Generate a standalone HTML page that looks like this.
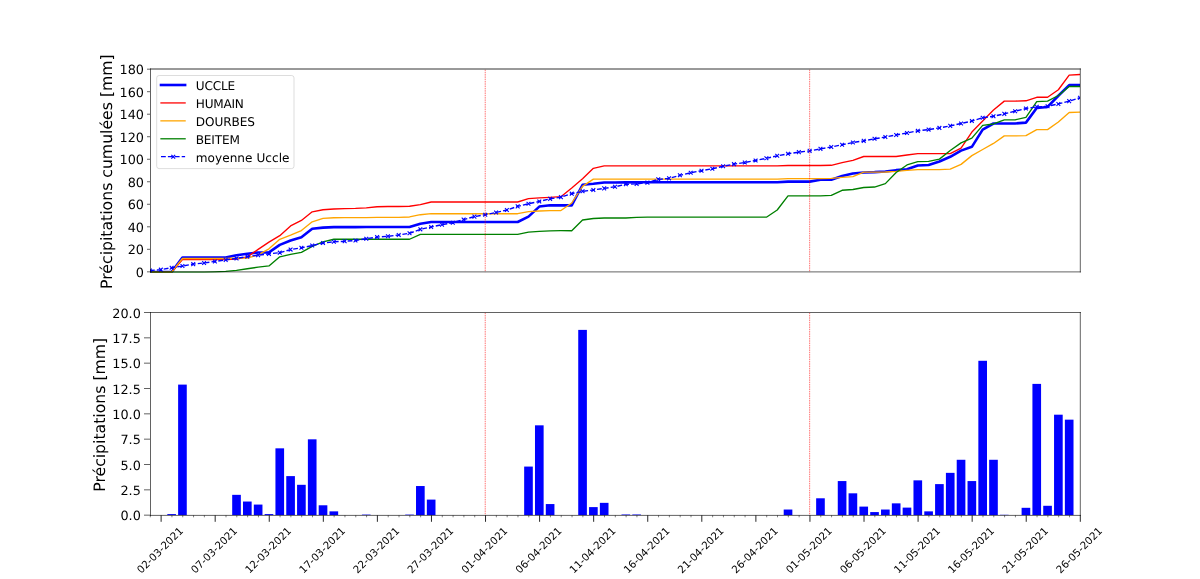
<!DOCTYPE html>
<html lang="fr"><head><meta charset="utf-8"><title>Précipitations</title>
<style>html,body{margin:0;padding:0;background:#fff}svg{display:block}text{font-family:"DejaVu Sans", "Liberation Sans", sans-serif;fill:#000;text-rendering:geometricPrecision}</style></head><body>
<svg width="1200" height="579" viewBox="0 0 1200 579">
<rect width="1200" height="579" fill="#fff"/>
<defs><clipPath id="ct"><rect x="150.00" y="69.48" width="930.00" height="203.20"/></clipPath><clipPath id="cb"><rect x="150.00" y="312.66" width="930.00" height="202.65"/></clipPath></defs>
<g clip-path="url(#ct)">
<polyline points="150.00,272.13 160.81,272.13 171.63,271.99 182.44,257.47 193.26,257.47 204.07,257.47 214.88,257.47 225.70,257.47 236.51,255.20 247.33,253.67 258.14,252.47 268.95,252.34 279.77,244.90 290.58,240.54 301.40,237.15 312.21,228.71 323.02,227.59 333.84,227.15 344.65,227.15 355.47,227.15 366.28,227.07 377.09,227.07 387.91,227.07 398.72,227.07 409.53,227.00 420.35,223.74 431.16,222.00 441.98,222.00 452.79,222.00 463.60,222.00 474.42,222.00 485.23,222.00 496.05,222.00 506.86,222.00 517.67,222.00 528.49,216.58 539.30,206.58 550.12,205.33 560.93,205.33 571.74,205.33 582.56,184.73 593.37,183.82 604.19,182.43 615.00,182.43 625.81,182.34 636.63,182.25 647.44,182.25 658.26,182.25 669.07,182.25 679.88,182.25 690.70,182.25 701.51,182.25 712.33,182.25 723.14,182.25 733.95,182.25 744.77,182.25 755.58,182.25 766.40,182.25 777.21,182.25 788.02,181.61 798.84,181.61 809.65,181.61 820.47,179.72 831.28,179.72 842.09,175.92 852.91,173.47 863.72,172.51 874.53,172.14 885.35,171.50 896.16,170.17 906.98,169.32 917.79,165.43 928.60,165.00 939.42,161.53 950.23,156.81 961.05,150.64 971.86,146.84 982.67,129.67 993.49,123.50 1004.30,123.44 1015.12,123.44 1025.93,122.61 1036.74,108.01 1047.56,106.95 1058.37,95.77 1069.19,85.14 1080.00,85.14" fill="none" stroke="#0000ff" stroke-width="2.60" stroke-linejoin="round" stroke-linecap="square"/>
<polyline points="150.00,272.13 160.81,272.13 171.63,272.13 182.44,259.46 193.26,259.46 204.07,259.46 214.88,259.46 225.70,259.46 236.51,259.07 247.33,256.82 258.14,249.39 268.95,242.18 279.77,235.65 290.58,225.97 301.40,220.45 312.21,211.79 323.02,209.76 333.84,208.97 344.65,208.63 355.47,208.41 366.28,207.84 377.09,206.72 387.91,206.49 398.72,206.49 409.53,206.27 420.35,204.69 431.16,201.99 441.98,201.99 452.79,201.99 463.60,201.99 474.42,201.99 485.23,201.99 496.05,201.99 506.86,201.99 517.67,201.99 528.49,198.61 539.30,197.82 550.12,197.37 560.93,196.70 571.74,188.03 582.56,178.80 593.37,168.33 604.19,165.85 615.00,165.85 625.81,165.85 636.63,165.85 647.44,165.85 658.26,165.85 669.07,165.85 679.88,165.85 690.70,165.85 701.51,165.85 712.33,165.85 723.14,165.85 733.95,165.85 744.77,165.85 755.58,165.85 766.40,165.85 777.21,165.85 788.02,165.51 798.84,165.51 809.65,165.51 820.47,165.51 831.28,165.29 842.09,162.70 852.91,160.33 863.72,156.51 874.53,156.51 885.35,156.51 896.16,156.51 906.98,155.04 917.79,153.69 928.60,153.69 939.42,153.69 950.23,153.69 961.05,148.06 971.86,132.08 982.67,121.04 993.49,110.01 1004.30,101.12 1015.12,101.12 1025.93,100.78 1036.74,97.29 1047.56,97.29 1058.37,89.75 1069.19,75.11 1080.00,74.55" fill="none" stroke="#ff0000" stroke-width="1.35" stroke-linejoin="round" stroke-linecap="square"/>
<polyline points="150.00,272.13 160.81,272.13 171.63,272.13 182.44,258.51 193.26,258.51 204.07,258.51 214.88,258.51 225.70,258.51 236.51,258.17 247.33,258.17 258.14,254.79 268.95,248.83 279.77,239.26 290.58,235.09 301.40,230.59 312.21,221.81 323.02,218.43 333.84,217.75 344.65,217.64 355.47,217.64 366.28,217.64 377.09,217.30 387.91,217.30 398.72,217.30 409.53,216.96 420.35,214.71 431.16,213.70 441.98,213.70 452.79,213.70 463.60,213.70 474.42,213.70 485.23,213.70 496.05,213.70 506.86,213.70 517.67,213.70 528.49,211.67 539.30,211.00 550.12,210.66 560.93,210.55 571.74,203.00 582.56,186.34 593.37,179.14 604.19,179.14 615.00,179.14 625.81,179.14 636.63,179.14 647.44,179.14 658.26,179.14 669.07,179.14 679.88,179.14 690.70,179.14 701.51,179.14 712.33,179.14 723.14,179.14 733.95,179.14 744.77,179.14 755.58,179.14 766.40,179.14 777.21,179.14 788.02,178.69 798.84,178.69 809.65,178.69 820.47,178.69 831.28,178.35 842.09,177.45 852.91,176.66 863.72,172.16 874.53,172.16 885.35,172.04 896.16,171.37 906.98,170.35 917.79,169.68 928.60,169.68 939.42,169.57 950.23,169.12 961.05,164.39 971.86,155.61 982.67,149.53 993.49,143.45 1004.30,135.90 1015.12,135.90 1025.93,135.68 1036.74,129.60 1047.56,129.60 1058.37,122.06 1069.19,112.49 1080.00,112.15" fill="none" stroke="#ffa500" stroke-width="1.35" stroke-linejoin="round" stroke-linecap="square"/>
<polyline points="150.00,272.13 160.81,272.13 171.63,272.13 182.44,272.13 193.26,272.13 204.07,272.13 214.88,271.90 225.70,271.45 236.51,270.44 247.33,268.75 258.14,267.18 268.95,265.94 279.77,256.82 290.58,254.45 301.40,252.32 312.21,246.46 323.02,241.85 333.84,239.26 344.65,239.26 355.47,239.26 366.28,239.26 377.09,239.26 387.91,239.26 398.72,239.26 409.53,239.26 420.35,234.30 431.16,234.30 441.98,234.30 452.79,234.30 463.60,234.30 474.42,234.30 485.23,234.30 496.05,234.30 506.86,234.30 517.67,234.30 528.49,232.16 539.30,231.37 550.12,230.81 560.93,230.70 571.74,230.70 582.56,220.00 593.37,218.54 604.19,217.98 615.00,217.98 625.81,217.98 636.63,217.30 647.44,217.19 658.26,217.19 669.07,217.19 679.88,217.19 690.70,217.19 701.51,217.19 712.33,217.19 723.14,217.19 733.95,217.19 744.77,217.19 755.58,217.19 766.40,217.19 777.21,209.98 788.02,195.80 798.84,195.80 809.65,195.80 820.47,195.80 831.28,195.35 842.09,190.28 852.91,189.49 863.72,187.47 874.53,187.02 885.35,183.64 896.16,172.49 906.98,164.95 917.79,161.69 928.60,161.35 939.42,159.10 950.23,150.54 961.05,142.88 971.86,138.16 982.67,125.43 993.49,123.97 1004.30,119.80 1015.12,119.80 1025.93,117.33 1036.74,101.68 1047.56,101.12 1058.37,95.49 1069.19,86.48 1080.00,86.48" fill="none" stroke="#008000" stroke-width="1.35" stroke-linejoin="round" stroke-linecap="square"/>
<polyline points="150.00,270.44 160.81,269.65 171.63,267.74 182.44,266.05 193.26,264.14 204.07,263.01 214.88,261.43 225.70,259.86 236.51,258.39 247.33,256.59 258.14,255.13 268.95,253.89 279.77,252.65 290.58,249.61 301.40,247.81 312.21,245.56 323.02,243.08 333.84,241.73 344.65,241.28 355.47,240.49 366.28,238.69 377.09,237.12 387.91,236.33 398.72,234.98 409.53,233.29 420.35,229.35 431.16,226.98 441.98,224.62 452.79,222.71 463.60,219.55 474.42,216.63 485.23,214.71 496.05,212.46 506.86,209.98 517.67,206.38 528.49,203.79 539.30,201.43 550.12,198.84 560.93,197.15 571.74,193.66 582.56,191.30 593.37,189.94 604.19,188.37 615.00,186.79 625.81,184.31 636.63,183.86 647.44,182.63 658.26,179.36 669.07,178.35 679.88,175.31 690.70,172.72 701.51,170.69 712.33,168.78 723.14,166.30 733.95,164.16 744.77,162.47 755.58,160.45 766.40,158.31 777.21,155.83 788.02,153.80 798.84,152.12 809.65,150.88 820.47,148.85 831.28,147.05 842.09,144.69 852.91,142.55 863.72,140.86 874.53,138.83 885.35,137.03 896.16,135.00 906.98,132.98 917.79,130.84 928.60,129.60 939.42,127.91 950.23,125.88 961.05,123.52 971.86,121.04 982.67,117.67 993.49,116.31 1004.30,113.84 1015.12,111.25 1025.93,108.55 1036.74,106.86 1047.56,106.29 1058.37,103.93 1069.19,101.12 1080.00,97.74" fill="none" stroke="#0000ff" stroke-width="1.40" stroke-linejoin="round" stroke-dasharray="4.8 2.1"/>
<path d="M148.10 268.54L151.90 272.34M148.10 272.34L151.90 268.54M158.91 267.75L162.71 271.55M158.91 271.55L162.71 267.75M169.73 265.84L173.53 269.64M169.73 269.64L173.53 265.84M180.54 264.15L184.34 267.95M180.54 267.95L184.34 264.15M191.36 262.24L195.16 266.04M191.36 266.04L195.16 262.24M202.17 261.11L205.97 264.91M202.17 264.91L205.97 261.11M212.98 259.53L216.78 263.33M212.98 263.33L216.78 259.53M223.80 257.96L227.60 261.76M223.80 261.76L227.60 257.96M234.61 256.49L238.41 260.29M234.61 260.29L238.41 256.49M245.43 254.69L249.23 258.49M245.43 258.49L249.23 254.69M256.24 253.23L260.04 257.03M256.24 257.03L260.04 253.23M267.05 251.99L270.85 255.79M267.05 255.79L270.85 251.99M277.87 250.75L281.67 254.55M277.87 254.55L281.67 250.75M288.68 247.71L292.48 251.51M288.68 251.51L292.48 247.71M299.50 245.91L303.30 249.71M299.50 249.71L303.30 245.91M310.31 243.66L314.11 247.46M310.31 247.46L314.11 243.66M321.12 241.18L324.92 244.98M321.12 244.98L324.92 241.18M331.94 239.83L335.74 243.63M331.94 243.63L335.74 239.83M342.75 239.38L346.55 243.18M342.75 243.18L346.55 239.38M353.57 238.59L357.37 242.39M353.57 242.39L357.37 238.59M364.38 236.79L368.18 240.59M364.38 240.59L368.18 236.79M375.19 235.22L378.99 239.02M375.19 239.02L378.99 235.22M386.01 234.43L389.81 238.23M386.01 238.23L389.81 234.43M396.82 233.08L400.62 236.88M396.82 236.88L400.62 233.08M407.63 231.39L411.43 235.19M407.63 235.19L411.43 231.39M418.45 227.45L422.25 231.25M418.45 231.25L422.25 227.45M429.26 225.08L433.06 228.88M429.26 228.88L433.06 225.08M440.08 222.72L443.88 226.52M440.08 226.52L443.88 222.72M450.89 220.81L454.69 224.61M450.89 224.61L454.69 220.81M461.70 217.65L465.50 221.45M461.70 221.45L465.50 217.65M472.52 214.73L476.32 218.53M472.52 218.53L476.32 214.73M483.33 212.81L487.13 216.61M483.33 216.61L487.13 212.81M494.15 210.56L497.95 214.36M494.15 214.36L497.95 210.56M504.96 208.08L508.76 211.88M504.96 211.88L508.76 208.08M515.77 204.48L519.57 208.28M515.77 208.28L519.57 204.48M526.59 201.89L530.39 205.69M526.59 205.69L530.39 201.89M537.40 199.53L541.20 203.33M537.40 203.33L541.20 199.53M548.22 196.94L552.02 200.74M548.22 200.74L552.02 196.94M559.03 195.25L562.83 199.05M559.03 199.05L562.83 195.25M569.84 191.76L573.64 195.56M569.84 195.56L573.64 191.76M580.66 189.40L584.46 193.20M580.66 193.20L584.46 189.40M591.47 188.04L595.27 191.84M591.47 191.84L595.27 188.04M602.29 186.47L606.09 190.27M602.29 190.27L606.09 186.47M613.10 184.89L616.90 188.69M613.10 188.69L616.90 184.89M623.91 182.41L627.71 186.22M623.91 186.22L627.71 182.41M634.73 181.96L638.53 185.76M634.73 185.76L638.53 181.96M645.54 180.73L649.34 184.53M645.54 184.53L649.34 180.73M656.36 177.46L660.16 181.26M656.36 181.26L660.16 177.46M667.17 176.45L670.97 180.25M667.17 180.25L670.97 176.45M677.98 173.41L681.78 177.21M677.98 177.21L681.78 173.41M688.80 170.82L692.60 174.62M688.80 174.62L692.60 170.82M699.61 168.79L703.41 172.59M699.61 172.59L703.41 168.79M710.43 166.88L714.23 170.68M710.43 170.68L714.23 166.88M721.24 164.40L725.04 168.20M721.24 168.20L725.04 164.40M732.05 162.26L735.85 166.06M732.05 166.06L735.85 162.26M742.87 160.57L746.67 164.37M742.87 164.37L746.67 160.57M753.68 158.55L757.48 162.35M753.68 162.35L757.48 158.55M764.50 156.41L768.30 160.21M764.50 160.21L768.30 156.41M775.31 153.93L779.11 157.73M775.31 157.73L779.11 153.93M786.12 151.90L789.92 155.70M786.12 155.70L789.92 151.90M796.94 150.22L800.74 154.02M796.94 154.02L800.74 150.22M807.75 148.98L811.55 152.78M807.75 152.78L811.55 148.98M818.57 146.95L822.37 150.75M818.57 150.75L822.37 146.95M829.38 145.15L833.18 148.95M829.38 148.95L833.18 145.15M840.19 142.79L843.99 146.59M840.19 146.59L843.99 142.79M851.01 140.65L854.81 144.45M851.01 144.45L854.81 140.65M861.82 138.96L865.62 142.76M861.82 142.76L865.62 138.96M872.63 136.93L876.43 140.73M872.63 140.73L876.43 136.93M883.45 135.13L887.25 138.93M883.45 138.93L887.25 135.13M894.26 133.10L898.06 136.90M894.26 136.90L898.06 133.10M905.08 131.08L908.88 134.88M905.08 134.88L908.88 131.08M915.89 128.94L919.69 132.74M915.89 132.74L919.69 128.94M926.70 127.70L930.50 131.50M926.70 131.50L930.50 127.70M937.52 126.01L941.32 129.81M937.52 129.81L941.32 126.01M948.33 123.98L952.13 127.78M948.33 127.78L952.13 123.98M959.15 121.62L962.95 125.42M959.15 125.42L962.95 121.62M969.96 119.14L973.76 122.94M969.96 122.94L973.76 119.14M980.77 115.77L984.57 119.57M980.77 119.57L984.57 115.77M991.59 114.41L995.39 118.21M991.59 118.21L995.39 114.41M1002.40 111.94L1006.20 115.74M1002.40 115.74L1006.20 111.94M1013.22 109.35L1017.02 113.15M1013.22 113.15L1017.02 109.35M1024.03 106.65L1027.83 110.45M1024.03 110.45L1027.83 106.65M1034.84 104.96L1038.64 108.76M1034.84 108.76L1038.64 104.96M1045.66 104.39L1049.46 108.19M1045.66 108.19L1049.46 104.39M1056.47 102.03L1060.27 105.83M1056.47 105.83L1060.27 102.03M1067.29 99.22L1071.09 103.02M1067.29 103.02L1071.09 99.22M1078.10 95.84L1081.90 99.64M1078.10 99.64L1081.90 95.84" stroke="#0000ff" stroke-width="1.1" fill="none"/>
<line x1="485.23" y1="69.48" x2="485.23" y2="272.13" stroke="#ff0000" stroke-width="0.55" stroke-dasharray="1.5 0.8"/>
<line x1="809.65" y1="69.48" x2="809.65" y2="272.13" stroke="#ff0000" stroke-width="0.55" stroke-dasharray="1.5 0.8"/>
</g>
<path d="M150.50 69.00H1080.30" fill="none" stroke="#000" stroke-width="0.80" stroke-linecap="square"/>
<path d="M150.50 271.90H1080.30M150.50 69.00V271.90M1080.30 69.00V271.90" fill="none" stroke="#000" stroke-width="0.62" stroke-linecap="square"/>
<line x1="147.00" y1="271.83" x2="150.00" y2="271.83" stroke="#000" stroke-width="0.62"/>
<text x="144.00" y="277.00" font-size="12.80" text-anchor="end">0</text>
<line x1="147.00" y1="249.31" x2="150.00" y2="249.31" stroke="#000" stroke-width="0.62"/>
<text x="144.00" y="254.00" font-size="12.80" text-anchor="end">20</text>
<line x1="147.00" y1="226.80" x2="150.00" y2="226.80" stroke="#000" stroke-width="0.62"/>
<text x="144.00" y="232.00" font-size="12.80" text-anchor="end">40</text>
<line x1="147.00" y1="204.28" x2="150.00" y2="204.28" stroke="#000" stroke-width="0.62"/>
<text x="144.00" y="209.00" font-size="12.80" text-anchor="end">60</text>
<line x1="147.00" y1="181.76" x2="150.00" y2="181.76" stroke="#000" stroke-width="0.62"/>
<text x="144.00" y="187.00" font-size="12.80" text-anchor="end">80</text>
<line x1="147.00" y1="159.25" x2="150.00" y2="159.25" stroke="#000" stroke-width="0.62"/>
<text x="144.00" y="164.00" font-size="12.80" text-anchor="end">100</text>
<line x1="147.00" y1="136.73" x2="150.00" y2="136.73" stroke="#000" stroke-width="0.62"/>
<text x="144.00" y="142.00" font-size="12.80" text-anchor="end">120</text>
<line x1="147.00" y1="114.21" x2="150.00" y2="114.21" stroke="#000" stroke-width="0.62"/>
<text x="144.00" y="119.00" font-size="12.80" text-anchor="end">140</text>
<line x1="147.00" y1="91.70" x2="150.00" y2="91.70" stroke="#000" stroke-width="0.62"/>
<text x="144.00" y="97.00" font-size="12.80" text-anchor="end">160</text>
<line x1="147.00" y1="69.18" x2="150.00" y2="69.18" stroke="#000" stroke-width="0.62"/>
<text x="144.00" y="74.00" font-size="12.80" text-anchor="end">180</text>
<text transform="translate(112.00 171.61) rotate(-90)" font-size="15.70" text-anchor="middle">Précipitations cumulées [mm]</text>
<rect x="156.70" y="75.50" width="137.30" height="93.10" rx="2.4" ry="2.4" fill="#fff" fill-opacity="0.8" stroke="#ccc" stroke-opacity="0.8" stroke-width="0.85"/>
<line x1="161.0" y1="85.00" x2="185.1" y2="85.00" stroke="#0000ff" stroke-width="2.60" stroke-linecap="square" />
<text x="195.75" y="90.00" font-size="12.10" textLength="39.40">UCCLE</text>
<line x1="161.0" y1="102.93" x2="185.1" y2="102.93" stroke="#ff0000" stroke-width="1.29" stroke-linecap="square" />
<text x="195.75" y="108.00" font-size="12.10" textLength="48.15">HUMAIN</text>
<line x1="161.0" y1="120.86" x2="185.1" y2="120.86" stroke="#ffa500" stroke-width="1.29" stroke-linecap="square" />
<text x="195.75" y="126.00" font-size="12.10" textLength="59.20">DOURBES</text>
<line x1="161.0" y1="138.79" x2="185.1" y2="138.79" stroke="#008000" stroke-width="1.29" stroke-linecap="square" />
<text x="195.75" y="144.00" font-size="12.10" textLength="44.10">BEITEM</text>
<line x1="161.0" y1="156.72" x2="185.1" y2="156.72" stroke="#0000ff" stroke-width="1.30" stroke-linecap="butt" stroke-dasharray="4.8 2.1"/>
<path d="M171.35 154.82L175.15 158.62M171.35 158.62L175.15 154.82" stroke="#0000ff" stroke-width="1.15"/>
<text x="195.75" y="162.00" font-size="12.10" textLength="93.80">moyenne Uccle</text>
<g clip-path="url(#cb)">
<rect x="167.30" y="514.09" width="8.65" height="1.22" fill="#0000ff"/>
<rect x="178.12" y="384.60" width="8.65" height="130.71" fill="#0000ff"/>
<rect x="232.19" y="494.84" width="8.65" height="20.47" fill="#0000ff"/>
<rect x="243.00" y="501.53" width="8.65" height="13.78" fill="#0000ff"/>
<rect x="253.81" y="504.57" width="8.65" height="10.74" fill="#0000ff"/>
<rect x="264.63" y="514.09" width="8.65" height="1.22" fill="#0000ff"/>
<rect x="275.44" y="448.33" width="8.65" height="66.98" fill="#0000ff"/>
<rect x="286.26" y="476.10" width="8.65" height="39.21" fill="#0000ff"/>
<rect x="297.07" y="484.81" width="8.65" height="30.50" fill="#0000ff"/>
<rect x="307.88" y="439.32" width="8.65" height="75.99" fill="#0000ff"/>
<rect x="318.70" y="505.28" width="8.65" height="10.03" fill="#0000ff"/>
<rect x="329.51" y="511.36" width="8.65" height="3.95" fill="#0000ff"/>
<rect x="361.95" y="514.60" width="8.65" height="0.71" fill="#0000ff"/>
<rect x="405.21" y="514.60" width="8.65" height="0.71" fill="#0000ff"/>
<rect x="416.02" y="486.03" width="8.65" height="29.28" fill="#0000ff"/>
<rect x="426.84" y="499.60" width="8.65" height="15.71" fill="#0000ff"/>
<rect x="524.16" y="466.57" width="8.65" height="48.74" fill="#0000ff"/>
<rect x="534.98" y="425.33" width="8.65" height="89.98" fill="#0000ff"/>
<rect x="545.79" y="504.06" width="8.65" height="11.25" fill="#0000ff"/>
<rect x="578.23" y="329.89" width="8.65" height="185.42" fill="#0000ff"/>
<rect x="589.05" y="507.10" width="8.65" height="8.21" fill="#0000ff"/>
<rect x="599.86" y="502.85" width="8.65" height="12.46" fill="#0000ff"/>
<rect x="621.49" y="514.50" width="8.65" height="0.81" fill="#0000ff"/>
<rect x="632.30" y="514.50" width="8.65" height="0.81" fill="#0000ff"/>
<rect x="783.70" y="509.53" width="8.65" height="5.78" fill="#0000ff"/>
<rect x="816.14" y="498.29" width="8.65" height="17.02" fill="#0000ff"/>
<rect x="837.77" y="481.06" width="8.65" height="34.25" fill="#0000ff"/>
<rect x="848.58" y="493.32" width="8.65" height="21.99" fill="#0000ff"/>
<rect x="859.40" y="506.60" width="8.65" height="8.71" fill="#0000ff"/>
<rect x="870.21" y="512.07" width="8.65" height="3.24" fill="#0000ff"/>
<rect x="881.02" y="509.53" width="8.65" height="5.78" fill="#0000ff"/>
<rect x="891.84" y="503.35" width="8.65" height="11.96" fill="#0000ff"/>
<rect x="902.65" y="507.61" width="8.65" height="7.70" fill="#0000ff"/>
<rect x="913.47" y="480.35" width="8.65" height="34.96" fill="#0000ff"/>
<rect x="924.28" y="511.36" width="8.65" height="3.95" fill="#0000ff"/>
<rect x="935.09" y="484.10" width="8.65" height="31.21" fill="#0000ff"/>
<rect x="945.91" y="472.85" width="8.65" height="42.46" fill="#0000ff"/>
<rect x="956.72" y="459.78" width="8.65" height="55.53" fill="#0000ff"/>
<rect x="967.53" y="481.06" width="8.65" height="34.25" fill="#0000ff"/>
<rect x="978.35" y="360.79" width="8.65" height="154.52" fill="#0000ff"/>
<rect x="989.16" y="459.78" width="8.65" height="55.53" fill="#0000ff"/>
<rect x="999.98" y="514.80" width="8.65" height="0.51" fill="#0000ff"/>
<rect x="1021.60" y="507.81" width="8.65" height="7.50" fill="#0000ff"/>
<rect x="1032.42" y="383.89" width="8.65" height="131.42" fill="#0000ff"/>
<rect x="1043.23" y="505.79" width="8.65" height="9.52" fill="#0000ff"/>
<rect x="1054.05" y="414.69" width="8.65" height="100.62" fill="#0000ff"/>
<rect x="1064.86" y="419.66" width="8.65" height="95.65" fill="#0000ff"/>
<line x1="485.23" y1="312.66" x2="485.23" y2="515.31" stroke="#ff0000" stroke-width="0.55" stroke-dasharray="1.5 0.8"/>
<line x1="809.65" y1="312.66" x2="809.65" y2="515.31" stroke="#ff0000" stroke-width="0.55" stroke-dasharray="1.5 0.8"/>
</g>
<path d="M150.50 312.50H1080.30" fill="none" stroke="#000" stroke-width="0.62" stroke-linecap="square"/>
<path d="M150.50 515.40H1080.30M150.50 312.50V515.40M1080.30 312.50V515.40" fill="none" stroke="#000" stroke-width="0.62" stroke-linecap="square"/>
<line x1="144.00" y1="515.16" x2="150.00" y2="515.16" stroke="#000" stroke-width="0.62"/>
<text x="140.80" y="520.00" font-size="12.80" text-anchor="end">0.0</text>
<line x1="144.00" y1="489.83" x2="150.00" y2="489.83" stroke="#000" stroke-width="0.62"/>
<text x="140.80" y="495.00" font-size="12.80" text-anchor="end">2.5</text>
<line x1="144.00" y1="464.50" x2="150.00" y2="464.50" stroke="#000" stroke-width="0.62"/>
<text x="140.80" y="470.00" font-size="12.80" text-anchor="end">5.0</text>
<line x1="144.00" y1="439.17" x2="150.00" y2="439.17" stroke="#000" stroke-width="0.62"/>
<text x="140.80" y="444.00" font-size="12.80" text-anchor="end">7.5</text>
<line x1="144.00" y1="413.84" x2="150.00" y2="413.84" stroke="#000" stroke-width="0.62"/>
<text x="140.80" y="419.00" font-size="12.80" text-anchor="end">10.0</text>
<line x1="144.00" y1="388.50" x2="150.00" y2="388.50" stroke="#000" stroke-width="0.62"/>
<text x="140.80" y="394.00" font-size="12.80" text-anchor="end">12.5</text>
<line x1="144.00" y1="363.17" x2="150.00" y2="363.17" stroke="#000" stroke-width="0.62"/>
<text x="140.80" y="368.00" font-size="12.80" text-anchor="end">15.0</text>
<line x1="144.00" y1="337.84" x2="150.00" y2="337.84" stroke="#000" stroke-width="0.62"/>
<text x="140.80" y="343.00" font-size="12.80" text-anchor="end">17.5</text>
<line x1="144.00" y1="312.51" x2="150.00" y2="312.51" stroke="#000" stroke-width="0.62"/>
<text x="140.80" y="318.00" font-size="12.80" text-anchor="end">20.0</text>
<text transform="translate(104.70 414.79) rotate(-90)" font-size="15.70" text-anchor="middle">Précipitations [mm]</text>
<line x1="150.30" y1="515.31" x2="150.30" y2="517.31" stroke="#000" stroke-width="0.50"/>
<line x1="161.11" y1="515.31" x2="161.11" y2="521.81" stroke="#000" stroke-width="0.85"/>
<text transform="translate(159.91 550.10) rotate(-45)" font-size="10.35" text-anchor="middle" dy="0.36em">02-03-2021</text>
<line x1="171.93" y1="515.31" x2="171.93" y2="517.31" stroke="#000" stroke-width="0.50"/>
<line x1="182.74" y1="515.31" x2="182.74" y2="517.31" stroke="#000" stroke-width="0.50"/>
<line x1="193.56" y1="515.31" x2="193.56" y2="517.31" stroke="#000" stroke-width="0.50"/>
<line x1="204.37" y1="515.31" x2="204.37" y2="517.31" stroke="#000" stroke-width="0.50"/>
<line x1="215.18" y1="515.31" x2="215.18" y2="521.81" stroke="#000" stroke-width="0.85"/>
<text transform="translate(213.98 550.10) rotate(-45)" font-size="10.35" text-anchor="middle" dy="0.36em">07-03-2021</text>
<line x1="226.00" y1="515.31" x2="226.00" y2="517.31" stroke="#000" stroke-width="0.50"/>
<line x1="236.81" y1="515.31" x2="236.81" y2="517.31" stroke="#000" stroke-width="0.50"/>
<line x1="247.63" y1="515.31" x2="247.63" y2="517.31" stroke="#000" stroke-width="0.50"/>
<line x1="258.44" y1="515.31" x2="258.44" y2="517.31" stroke="#000" stroke-width="0.50"/>
<line x1="269.25" y1="515.31" x2="269.25" y2="521.81" stroke="#000" stroke-width="0.85"/>
<text transform="translate(268.05 550.10) rotate(-45)" font-size="10.35" text-anchor="middle" dy="0.36em">12-03-2021</text>
<line x1="280.07" y1="515.31" x2="280.07" y2="517.31" stroke="#000" stroke-width="0.50"/>
<line x1="290.88" y1="515.31" x2="290.88" y2="517.31" stroke="#000" stroke-width="0.50"/>
<line x1="301.70" y1="515.31" x2="301.70" y2="517.31" stroke="#000" stroke-width="0.50"/>
<line x1="312.51" y1="515.31" x2="312.51" y2="517.31" stroke="#000" stroke-width="0.50"/>
<line x1="323.32" y1="515.31" x2="323.32" y2="521.81" stroke="#000" stroke-width="0.85"/>
<text transform="translate(322.12 550.10) rotate(-45)" font-size="10.35" text-anchor="middle" dy="0.36em">17-03-2021</text>
<line x1="334.14" y1="515.31" x2="334.14" y2="517.31" stroke="#000" stroke-width="0.50"/>
<line x1="344.95" y1="515.31" x2="344.95" y2="517.31" stroke="#000" stroke-width="0.50"/>
<line x1="355.77" y1="515.31" x2="355.77" y2="517.31" stroke="#000" stroke-width="0.50"/>
<line x1="366.58" y1="515.31" x2="366.58" y2="517.31" stroke="#000" stroke-width="0.50"/>
<line x1="377.39" y1="515.31" x2="377.39" y2="521.81" stroke="#000" stroke-width="0.85"/>
<text transform="translate(376.19 550.10) rotate(-45)" font-size="10.35" text-anchor="middle" dy="0.36em">22-03-2021</text>
<line x1="388.21" y1="515.31" x2="388.21" y2="517.31" stroke="#000" stroke-width="0.50"/>
<line x1="399.02" y1="515.31" x2="399.02" y2="517.31" stroke="#000" stroke-width="0.50"/>
<line x1="409.83" y1="515.31" x2="409.83" y2="517.31" stroke="#000" stroke-width="0.50"/>
<line x1="420.65" y1="515.31" x2="420.65" y2="517.31" stroke="#000" stroke-width="0.50"/>
<line x1="431.46" y1="515.31" x2="431.46" y2="521.81" stroke="#000" stroke-width="0.85"/>
<text transform="translate(430.26 550.10) rotate(-45)" font-size="10.35" text-anchor="middle" dy="0.36em">27-03-2021</text>
<line x1="442.28" y1="515.31" x2="442.28" y2="517.31" stroke="#000" stroke-width="0.50"/>
<line x1="453.09" y1="515.31" x2="453.09" y2="517.31" stroke="#000" stroke-width="0.50"/>
<line x1="463.90" y1="515.31" x2="463.90" y2="517.31" stroke="#000" stroke-width="0.50"/>
<line x1="474.72" y1="515.31" x2="474.72" y2="517.31" stroke="#000" stroke-width="0.50"/>
<line x1="485.53" y1="515.31" x2="485.53" y2="521.81" stroke="#000" stroke-width="0.85"/>
<text transform="translate(484.33 550.10) rotate(-45)" font-size="10.35" text-anchor="middle" dy="0.36em">01-04-2021</text>
<line x1="496.35" y1="515.31" x2="496.35" y2="517.31" stroke="#000" stroke-width="0.50"/>
<line x1="507.16" y1="515.31" x2="507.16" y2="517.31" stroke="#000" stroke-width="0.50"/>
<line x1="517.97" y1="515.31" x2="517.97" y2="517.31" stroke="#000" stroke-width="0.50"/>
<line x1="528.79" y1="515.31" x2="528.79" y2="517.31" stroke="#000" stroke-width="0.50"/>
<line x1="539.60" y1="515.31" x2="539.60" y2="521.81" stroke="#000" stroke-width="0.85"/>
<text transform="translate(538.40 550.10) rotate(-45)" font-size="10.35" text-anchor="middle" dy="0.36em">06-04-2021</text>
<line x1="550.42" y1="515.31" x2="550.42" y2="517.31" stroke="#000" stroke-width="0.50"/>
<line x1="561.23" y1="515.31" x2="561.23" y2="517.31" stroke="#000" stroke-width="0.50"/>
<line x1="572.04" y1="515.31" x2="572.04" y2="517.31" stroke="#000" stroke-width="0.50"/>
<line x1="582.86" y1="515.31" x2="582.86" y2="517.31" stroke="#000" stroke-width="0.50"/>
<line x1="593.67" y1="515.31" x2="593.67" y2="521.81" stroke="#000" stroke-width="0.85"/>
<text transform="translate(592.47 550.10) rotate(-45)" font-size="10.35" text-anchor="middle" dy="0.36em">11-04-2021</text>
<line x1="604.49" y1="515.31" x2="604.49" y2="517.31" stroke="#000" stroke-width="0.50"/>
<line x1="615.30" y1="515.31" x2="615.30" y2="517.31" stroke="#000" stroke-width="0.50"/>
<line x1="626.11" y1="515.31" x2="626.11" y2="517.31" stroke="#000" stroke-width="0.50"/>
<line x1="636.93" y1="515.31" x2="636.93" y2="517.31" stroke="#000" stroke-width="0.50"/>
<line x1="647.74" y1="515.31" x2="647.74" y2="521.81" stroke="#000" stroke-width="0.85"/>
<text transform="translate(646.54 550.10) rotate(-45)" font-size="10.35" text-anchor="middle" dy="0.36em">16-04-2021</text>
<line x1="658.56" y1="515.31" x2="658.56" y2="517.31" stroke="#000" stroke-width="0.50"/>
<line x1="669.37" y1="515.31" x2="669.37" y2="517.31" stroke="#000" stroke-width="0.50"/>
<line x1="680.18" y1="515.31" x2="680.18" y2="517.31" stroke="#000" stroke-width="0.50"/>
<line x1="691.00" y1="515.31" x2="691.00" y2="517.31" stroke="#000" stroke-width="0.50"/>
<line x1="701.81" y1="515.31" x2="701.81" y2="521.81" stroke="#000" stroke-width="0.85"/>
<text transform="translate(700.61 550.10) rotate(-45)" font-size="10.35" text-anchor="middle" dy="0.36em">21-04-2021</text>
<line x1="712.63" y1="515.31" x2="712.63" y2="517.31" stroke="#000" stroke-width="0.50"/>
<line x1="723.44" y1="515.31" x2="723.44" y2="517.31" stroke="#000" stroke-width="0.50"/>
<line x1="734.25" y1="515.31" x2="734.25" y2="517.31" stroke="#000" stroke-width="0.50"/>
<line x1="745.07" y1="515.31" x2="745.07" y2="517.31" stroke="#000" stroke-width="0.50"/>
<line x1="755.88" y1="515.31" x2="755.88" y2="521.81" stroke="#000" stroke-width="0.85"/>
<text transform="translate(754.68 550.10) rotate(-45)" font-size="10.35" text-anchor="middle" dy="0.36em">26-04-2021</text>
<line x1="766.70" y1="515.31" x2="766.70" y2="517.31" stroke="#000" stroke-width="0.50"/>
<line x1="777.51" y1="515.31" x2="777.51" y2="517.31" stroke="#000" stroke-width="0.50"/>
<line x1="788.32" y1="515.31" x2="788.32" y2="517.31" stroke="#000" stroke-width="0.50"/>
<line x1="799.14" y1="515.31" x2="799.14" y2="517.31" stroke="#000" stroke-width="0.50"/>
<line x1="809.95" y1="515.31" x2="809.95" y2="521.81" stroke="#000" stroke-width="0.85"/>
<text transform="translate(808.75 550.10) rotate(-45)" font-size="10.35" text-anchor="middle" dy="0.36em">01-05-2021</text>
<line x1="820.77" y1="515.31" x2="820.77" y2="517.31" stroke="#000" stroke-width="0.50"/>
<line x1="831.58" y1="515.31" x2="831.58" y2="517.31" stroke="#000" stroke-width="0.50"/>
<line x1="842.39" y1="515.31" x2="842.39" y2="517.31" stroke="#000" stroke-width="0.50"/>
<line x1="853.21" y1="515.31" x2="853.21" y2="517.31" stroke="#000" stroke-width="0.50"/>
<line x1="864.02" y1="515.31" x2="864.02" y2="521.81" stroke="#000" stroke-width="0.85"/>
<text transform="translate(862.82 550.10) rotate(-45)" font-size="10.35" text-anchor="middle" dy="0.36em">06-05-2021</text>
<line x1="874.83" y1="515.31" x2="874.83" y2="517.31" stroke="#000" stroke-width="0.50"/>
<line x1="885.65" y1="515.31" x2="885.65" y2="517.31" stroke="#000" stroke-width="0.50"/>
<line x1="896.46" y1="515.31" x2="896.46" y2="517.31" stroke="#000" stroke-width="0.50"/>
<line x1="907.28" y1="515.31" x2="907.28" y2="517.31" stroke="#000" stroke-width="0.50"/>
<line x1="918.09" y1="515.31" x2="918.09" y2="521.81" stroke="#000" stroke-width="0.85"/>
<text transform="translate(916.89 550.10) rotate(-45)" font-size="10.35" text-anchor="middle" dy="0.36em">11-05-2021</text>
<line x1="928.90" y1="515.31" x2="928.90" y2="517.31" stroke="#000" stroke-width="0.50"/>
<line x1="939.72" y1="515.31" x2="939.72" y2="517.31" stroke="#000" stroke-width="0.50"/>
<line x1="950.53" y1="515.31" x2="950.53" y2="517.31" stroke="#000" stroke-width="0.50"/>
<line x1="961.35" y1="515.31" x2="961.35" y2="517.31" stroke="#000" stroke-width="0.50"/>
<line x1="972.16" y1="515.31" x2="972.16" y2="521.81" stroke="#000" stroke-width="0.85"/>
<text transform="translate(970.96 550.10) rotate(-45)" font-size="10.35" text-anchor="middle" dy="0.36em">16-05-2021</text>
<line x1="982.97" y1="515.31" x2="982.97" y2="517.31" stroke="#000" stroke-width="0.50"/>
<line x1="993.79" y1="515.31" x2="993.79" y2="517.31" stroke="#000" stroke-width="0.50"/>
<line x1="1004.60" y1="515.31" x2="1004.60" y2="517.31" stroke="#000" stroke-width="0.50"/>
<line x1="1015.42" y1="515.31" x2="1015.42" y2="517.31" stroke="#000" stroke-width="0.50"/>
<line x1="1026.23" y1="515.31" x2="1026.23" y2="521.81" stroke="#000" stroke-width="0.85"/>
<text transform="translate(1025.03 550.10) rotate(-45)" font-size="10.35" text-anchor="middle" dy="0.36em">21-05-2021</text>
<line x1="1037.04" y1="515.31" x2="1037.04" y2="517.31" stroke="#000" stroke-width="0.50"/>
<line x1="1047.86" y1="515.31" x2="1047.86" y2="517.31" stroke="#000" stroke-width="0.50"/>
<line x1="1058.67" y1="515.31" x2="1058.67" y2="517.31" stroke="#000" stroke-width="0.50"/>
<line x1="1069.49" y1="515.31" x2="1069.49" y2="517.31" stroke="#000" stroke-width="0.50"/>
<line x1="1080.30" y1="515.31" x2="1080.30" y2="521.81" stroke="#000" stroke-width="0.85"/>
<text transform="translate(1079.10 550.10) rotate(-45)" font-size="10.35" text-anchor="middle" dy="0.36em">26-05-2021</text>
</svg></body></html>
